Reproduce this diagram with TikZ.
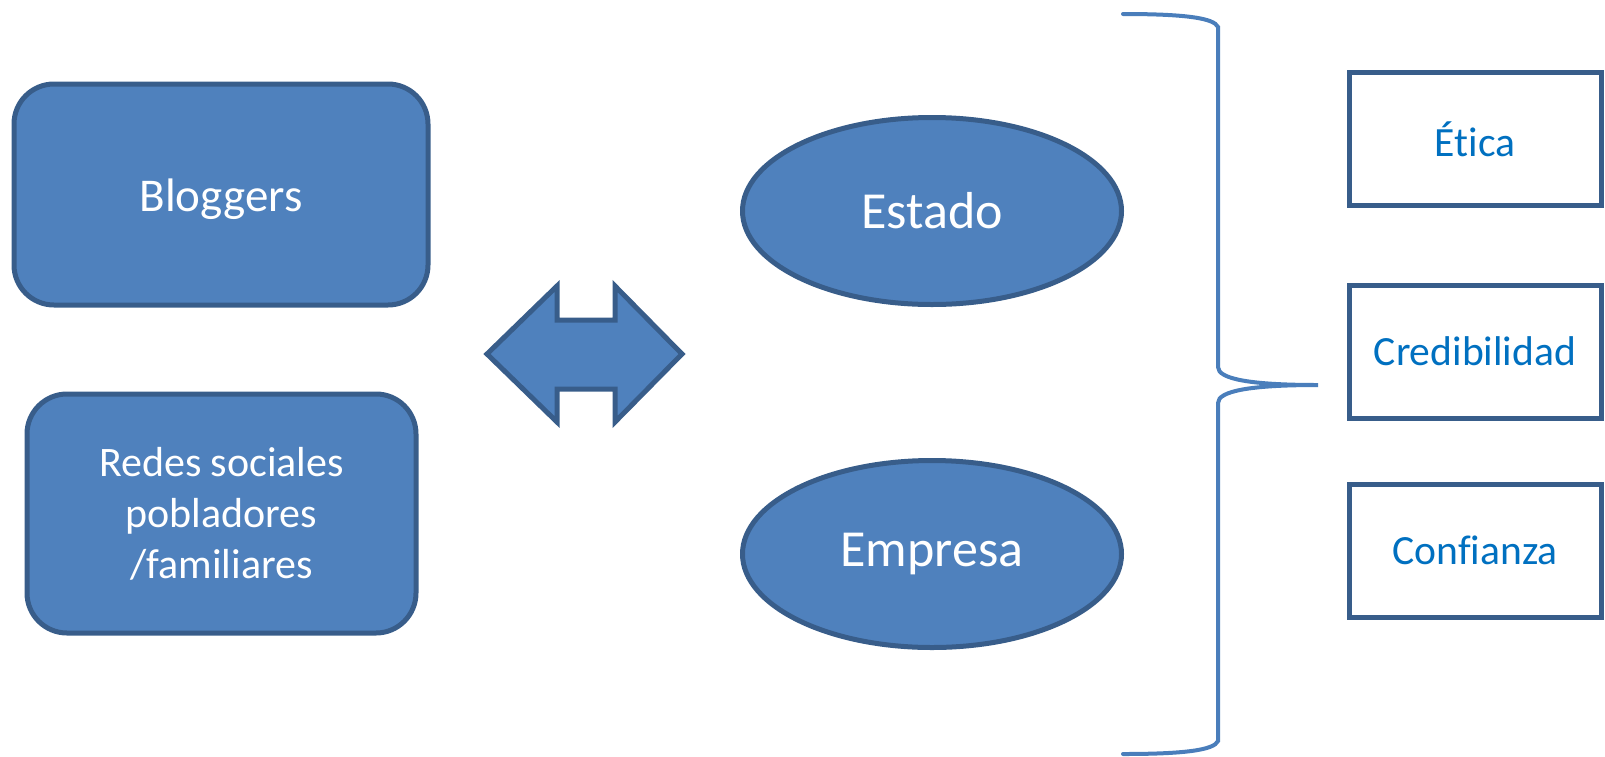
\documentclass[tikz,border=0pt]{standalone}
\usepackage{fontspec}
\setmainfont{Carlito}[Ligatures=NoCommon]
\usetikzlibrary{shapes.geometric}

\definecolor{boxFill}{HTML}{4F81BD}
\definecolor{boxLine}{HTML}{385D8A}
\definecolor{braceLine}{HTML}{4A7EBB}
\definecolor{textBlue}{HTML}{0070C0}

\newcommand{\braceX  }{1218}
\newcommand{\braceTip}{1318}
\newcommand{\braceMid}{385}
\newcommand{\rightX  }{1475}

\tikzset{
  roundbox/.style={draw=boxLine, fill=boxFill, line width=2.5pt, rounded corners=20pt,
    text=white, align=center, inner sep=0pt},
  oval/.style={ellipse, draw=boxLine, fill=boxFill, line width=2.5pt, text=white,
    inner sep=0pt, minimum width=189.5pt, minimum height=93.5pt,
    font=\fontsize{26}{31}\selectfont},
  valuebox/.style={draw=boxLine, fill=white, line width=2.5pt, text=textBlue,
    inner sep=0pt, minimum width=126pt, minimum height=66.5pt,
    font=\fontsize{20.8}{25}\selectfont}
}

\begin{document}
\begin{tikzpicture}[x=0.5pt, y=-0.5pt]

  \useasboundingbox (0,0) rectangle (1605,756);

  % Left boxes:
  \node[roundbox, minimum width=207pt, minimum height=110.5pt,
        font=\fontsize{23.5}{28}\selectfont] (bloggers) at (221,194.5)
        {\raisebox{-2.5pt}[\height][\depth]{Bloggers}};
  \node[roundbox, minimum width=194.5pt, minimum height=119.5pt,
        font=\fontsize{21}{25.5}\selectfont] (redes) at (221.5,513.5)
        {Redes sociales\\pobladores\\/familiares};

  % Double arrow:
  \draw[draw=boxLine, fill=boxFill, line width=2.5pt]
    (487,354) -- (557,286) -- (557,320) -- (615,320) -- (615,286) -- (682,354)
    -- (615,422) -- (615,389) -- (557,389) -- (557,422) -- cycle;

  % Ellipses:
  \node[oval] (estado)  at (932,211) {Estado};
  \node[oval] (empresa) at (932,554) {Empresa};

  % Brace:
  \draw[braceLine, line width=2pt, line cap=round]
    (1123,14) .. controls (1185,14) and (1214,18) .. (\braceX,27)
    -- (\braceX,367) .. controls (\braceX,379) and (1250,\braceMid) .. (\braceTip,\braceMid)
    .. controls (1250,\braceMid) and (\braceX,391) .. (\braceX,403)
    -- (\braceX,741) .. controls (1214,750) and (1185,754) .. (1123,754);

  % Right boxes:
  \node[valuebox] (etica)        at (\rightX,139)   {Ética};
  \node[valuebox] (credibilidad) at (\rightX,351.5) {Credibilidad};
  \node[valuebox] (confianza)    at (\rightX,550.5) {Confianza};

\end{tikzpicture}
\end{document}
